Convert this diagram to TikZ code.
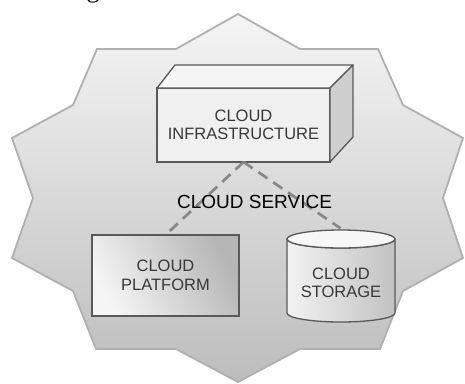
\documentclass[tikz,border=0pt]{standalone}
\usepackage{fontspec}
\setmainfont{Liberation Sans}
\newfontfamily\serifg{Liberation Serif}
\begin{document}
\begin{tikzpicture}[x=1pt,y=-1pt,
  lbl/.style={font=\fontsize{16.5}{18.5}\selectfont, text=black!78, align=center},
  box/.style={draw=black!65, line width=1.3pt, outer sep=0pt},
  link/.style={draw=black!47, line width=2.7pt, dash pattern=on 11pt off 7pt}]
\useasboundingbox (0,0) rectangle (465,383);
% star background
\path[shade, top color=gray!8, middle color=gray!30, bottom color=gray!52, draw=gray!62, line width=1.8pt]
  (238,14) -- (300,49) -- (378,49) -- (403,105) -- (463,138) -- (443,198) -- (463,258)
  -- (403,291) -- (380,349) -- (300,349) -- (238,382) -- (176,349) -- (96,349) -- (73,291)
  -- (12,258) -- (33,198) -- (12,138) -- (73,105) -- (97,49) -- (176,49) -- cycle;
% partial caption letter (cut by the top edge, as in the reference)
\node[font=\serifg\fontsize{26}{26}\selectfont, anchor=base, inner sep=0] (g) at (93,-2.5) {g};
% infrastructure cuboid
\node[box, fill=gray!12, minimum width=173pt, minimum height=74pt, inner sep=0, lbl] (infra) at (243.5,125) {CLOUD\\INFRASTRUCTURE};
\draw[box, fill=gray!8, line join=round] (infra.north west) -- ++(18,-23) -- ++(178,0) -- (infra.north east) -- cycle;
\draw[box, fill=gray!38, line join=round] (infra.north east) -- ++(23,-23) -- ++(0,72) -- (infra.south east) -- cycle;
% platform
\node[box, top color=gray!58, bottom color=gray!8, shading angle=-60, minimum width=147pt, minimum height=81pt, inner sep=0, lbl] (plat) at (165.5,275.5) {CLOUD\\PLATFORM};
% storage cylinder
\path[shade, left color=gray!10, right color=gray!48, draw=black!65, line width=1.3pt, line join=round]
  (287,239) -- (287,313) arc[start angle=180, end angle=0, x radius=54, y radius=9]
  -- (395,239) arc[start angle=0, end angle=180, x radius=54, y radius=9] -- cycle;
\draw[draw=black!65, line width=1.3pt, fill=gray!6] (341,239) ellipse [x radius=54, y radius=9];
\node[lbl, inner sep=0] (stor) at (341,283) {CLOUD\\STORAGE};
\coordinate (storTop) at (343,230);
% connectors
\draw[link, shorten >=6pt] (infra.south) -- (plat.north);
\draw[link, shorten >=3pt] (infra.south) -- (storTop);
\node[font=\fontsize{19}{22}\selectfont, text=black, inner sep=0] (svc) at (254.5,202) {CLOUD SERVICE};
\end{tikzpicture}
\end{document}
